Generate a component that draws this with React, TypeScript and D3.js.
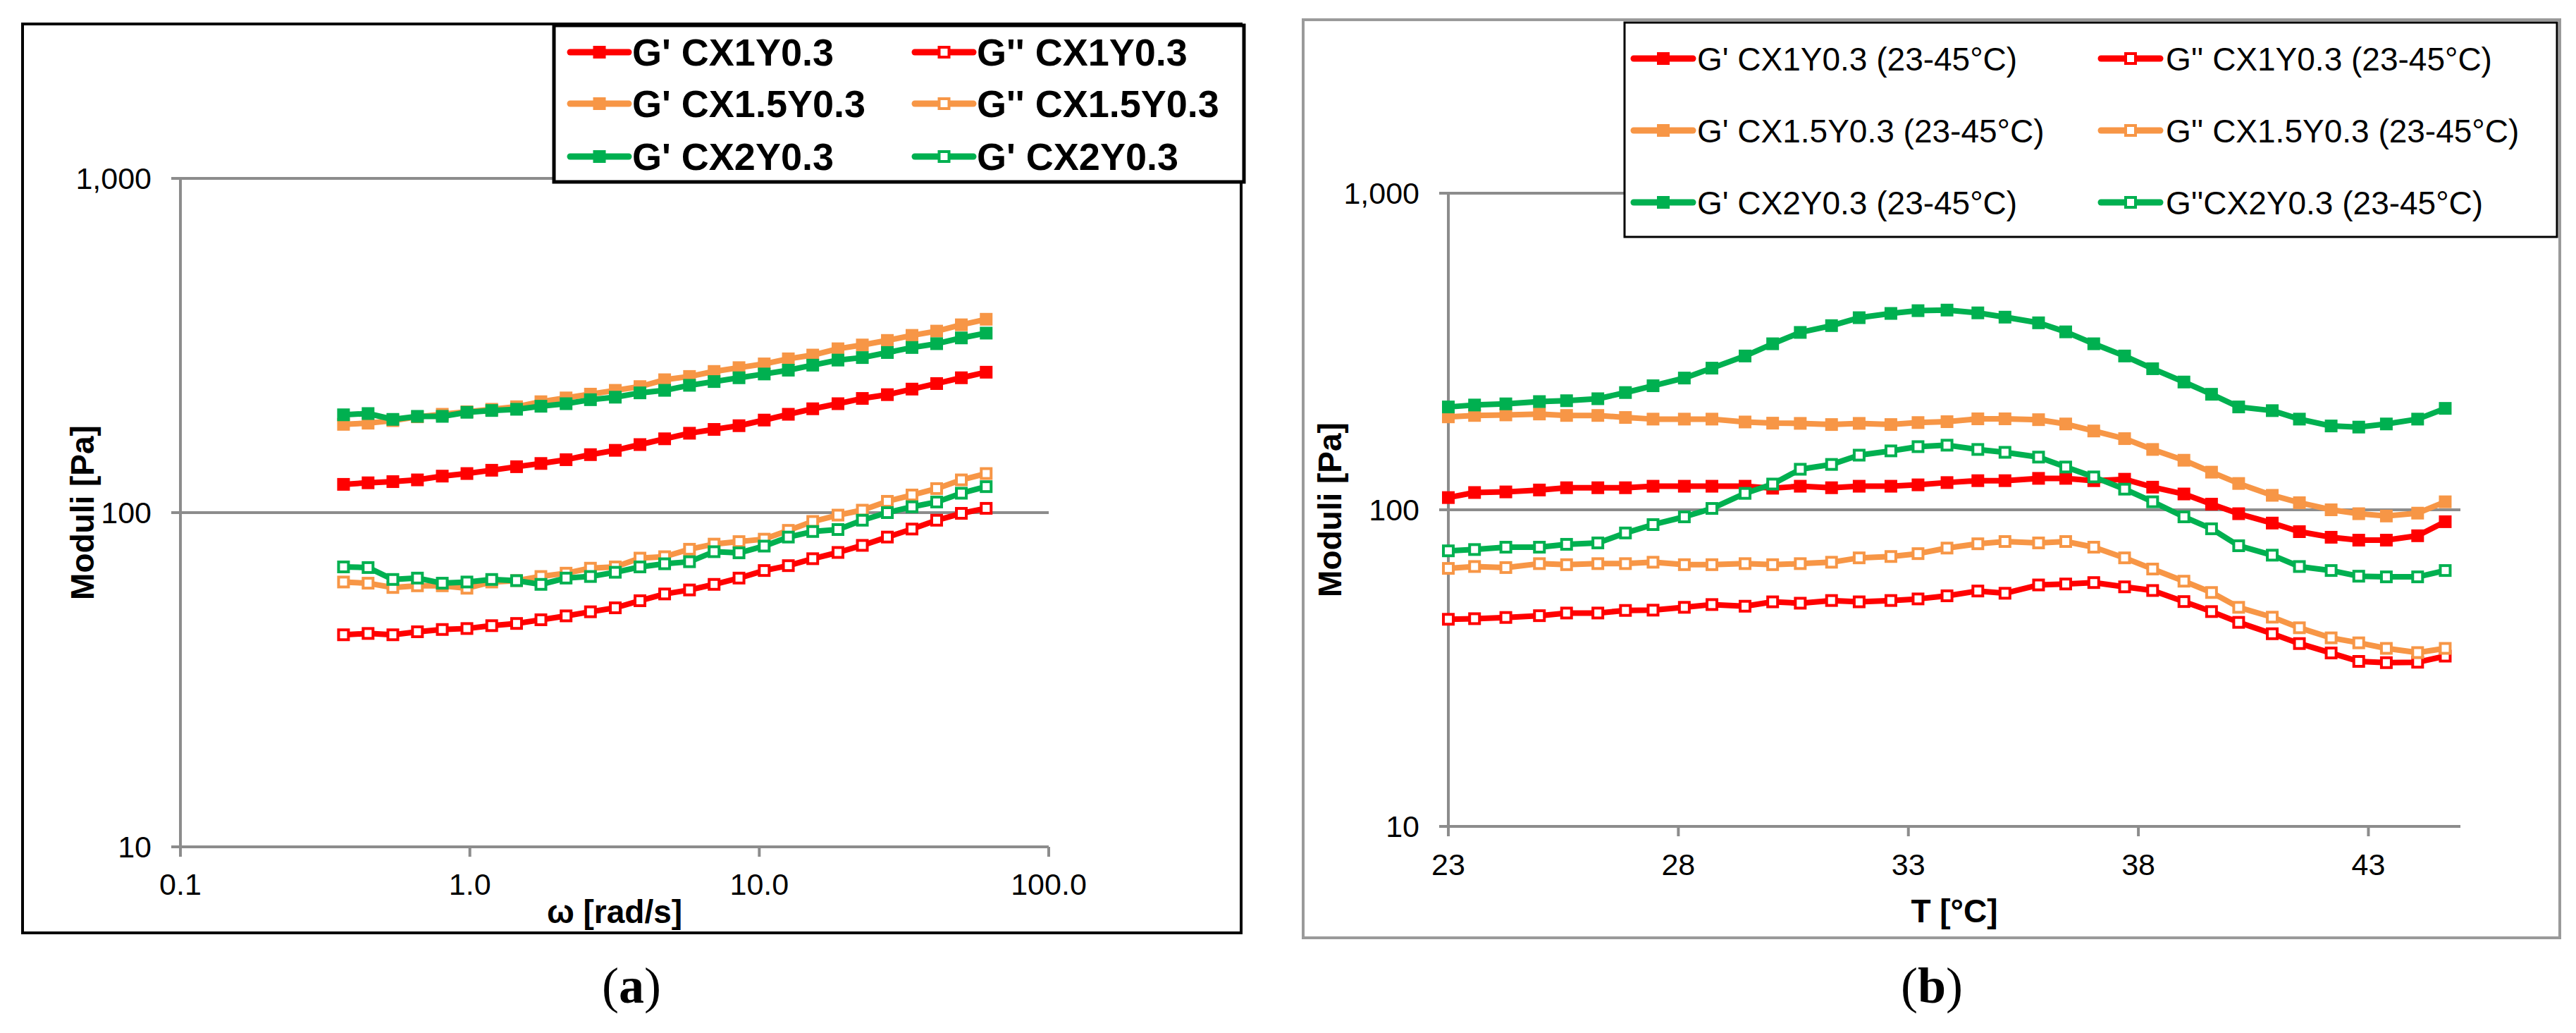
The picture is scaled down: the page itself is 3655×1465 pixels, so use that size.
import React, { useEffect } from "react";
import * as d3 from "d3";

// ---------- DATA: panel (a) frequency sweep ----------
const omegaA = [0.366, 0.445, 0.542, 0.659, 0.803, 0.977, 1.19, 1.45, 1.76, 2.15, 2.61, 3.18, 3.87, 4.71, 5.74, 6.98, 8.51, 10.4, 12.6, 15.3, 18.7, 22.7, 27.7, 33.7, 41.0, 49.9, 60.8];
const gpA_CX1 = [121.5, 122.8, 123.8, 125.3, 128.6, 130.9, 133.9, 137.2, 140.3, 144.0, 149.1, 153.6, 159.8, 166.3, 172.8, 177.4, 182.0, 189.2, 196.9, 204.5, 211.8, 219.6, 225.4, 234.2, 243.3, 253.2, 263.1];
const gppA_CX1 = [43.1, 43.5, 43.1, 44.0, 44.7, 45.0, 45.9, 46.6, 47.8, 49.1, 50.5, 51.9, 54.5, 57.1, 58.7, 61.0, 63.7, 67.1, 69.4, 72.8, 76.0, 79.8, 84.5, 89.3, 94.9, 99.5, 103.0];
const gpA_CX15 = [183.7, 185.2, 188.5, 193.5, 196.9, 200.3, 203.8, 207.4, 214.7, 220.4, 226.2, 232.2, 238.3, 249.8, 255.5, 264.5, 271.5, 278.6, 288.5, 296.1, 309.2, 317.4, 327.5, 339.1, 349.2, 364.7, 378.9];
const gppA_CX15 = [62.0, 61.5, 59.7, 60.4, 60.4, 59.4, 62.0, 62.6, 64.4, 65.9, 68.2, 68.8, 73.1, 73.8, 77.7, 80.5, 81.9, 83.3, 88.5, 94.1, 98.3, 101.7, 108.1, 112.9, 118.0, 125.3, 130.9];
const gpA_CX2 = [196.2, 197.9, 190.1, 194.1, 194.1, 199.6, 202.1, 203.8, 208.1, 211.8, 217.7, 221.5, 228.2, 232.2, 240.4, 246.7, 253.2, 259.9, 266.8, 276.2, 286.0, 291.0, 301.3, 311.9, 320.2, 333.2, 344.4];
const gppA_CX2 = [68.8, 68.5, 63.1, 63.7, 61.5, 62.0, 63.1, 62.6, 61.0, 63.7, 64.4, 66.3, 68.8, 70.3, 71.3, 76.4, 75.8, 79.4, 84.5, 87.8, 89.0, 94.9, 100.0, 104.1, 107.6, 114.3, 119.6];
const labelsA = ["G' CX1Y0.3", "G'' CX1Y0.3", "G' CX1.5Y0.3", "G'' CX1.5Y0.3", "G' CX2Y0.3", "G' CX2Y0.3"];
const xTicksA = [0.1, 1, 10, 100];
const xTickLabelsA = ["0.1", "1.0", "10.0", "100.0"];

// ---------- DATA: panel (b) temperature sweep ----------
const tempB = [23.0, 23.57, 24.25, 24.98, 25.57, 26.25, 26.85, 27.45, 28.13, 28.73, 29.45, 30.05, 30.65, 31.33, 31.93, 32.62, 33.21, 33.84, 34.51, 35.1, 35.83, 36.42, 37.03, 37.7, 38.31, 38.99, 39.59, 40.18, 40.91, 41.5, 42.19, 42.79, 43.39, 44.07, 44.67];
const gpB_CX1 = [109.3, 113.4, 113.9, 115.5, 117.4, 117.4, 117.4, 118.7, 118.7, 118.7, 118.7, 117.0, 118.7, 117.4, 118.7, 118.7, 119.9, 121.9, 123.6, 123.6, 125.7, 125.7, 123.6, 124.9, 117.9, 112.2, 104.2, 97.2, 90.8, 85.3, 81.9, 80.2, 80.2, 82.8, 91.7];
const gppB_CX1 = [45.1, 45.3, 45.7, 46.3, 47.2, 47.2, 48.1, 48.2, 49.2, 50.2, 49.6, 51.2, 50.7, 51.7, 51.2, 51.7, 52.3, 53.5, 55.4, 54.5, 57.9, 58.3, 58.9, 57.1, 55.6, 51.3, 47.7, 44.1, 40.6, 37.8, 35.3, 33.2, 32.9, 33.0, 34.5];
const gpB_CX15 = [196.6, 198.6, 199.4, 200.7, 198.6, 198.6, 195.7, 193.4, 193.4, 193.4, 189.4, 187.8, 187.5, 185.9, 187.5, 185.9, 188.6, 189.8, 193.8, 193.8, 192.6, 186.7, 177.4, 167.8, 155.1, 143.4, 131.5, 121.1, 111.1, 105.3, 100.0, 97.2, 95.6, 97.6, 106.0];
const gppB_CX15 = [65.3, 66.2, 65.7, 67.6, 67.1, 67.6, 67.6, 68.3, 67.1, 67.1, 67.6, 67.1, 67.6, 68.3, 70.5, 71.2, 72.7, 75.7, 78.1, 79.4, 78.6, 79.4, 76.2, 70.5, 65.0, 59.5, 54.8, 49.2, 45.8, 42.4, 39.4, 38.0, 36.5, 35.4, 36.5];
const gpB_CX2 = [211.3, 214.3, 216.1, 219.7, 221.1, 224.3, 234.6, 246.5, 260.7, 280.2, 306.1, 334.5, 363.3, 381.7, 404.4, 417.1, 425.6, 427.4, 418.8, 406.0, 389.6, 364.8, 334.5, 306.1, 279.0, 253.3, 231.7, 211.3, 205.7, 193.4, 184.0, 182.5, 186.7, 193.4, 209.1];
const gppB_CX2 = [74.2, 74.9, 76.2, 76.2, 77.8, 78.6, 84.5, 89.8, 95.0, 101.0, 112.7, 120.6, 134.3, 139.1, 148.8, 153.5, 158.3, 160.0, 155.1, 151.9, 146.7, 136.5, 127.0, 116.2, 106.0, 95.0, 87.1, 77.0, 71.9, 66.2, 64.3, 61.7, 61.4, 61.4, 64.3];
const labelsB = ["G' CX1Y0.3 (23-45°C)", "G'' CX1Y0.3 (23-45°C)", "G' CX1.5Y0.3 (23-45°C)", "G'' CX1.5Y0.3 (23-45°C)", "G' CX2Y0.3 (23-45°C)", "G''CX2Y0.3 (23-45°C)"];
const xTicksB = [23, 28, 33, 38, 43];

// shared
const yTicks = [10, 100, 1000];
const yTickLabels = ["10", "100", "1,000"];
const seriesColors = ["#FF0000", "#FF0000", "#F79646", "#F79646", "#00B050", "#00B050"];
const seriesOpen = [false, true, false, true, false, true];

const SANS = "'Liberation Sans', Arial, sans-serif";
const SERIF = "'Liberation Serif', 'Times New Roman', serif";
const GRID = "#8c8c8c";
const LW = 8;
const MS = 18;

function Marker({ x, y, color, open }: { x: number; y: number; color: string; open: boolean }) {
  if (open) {
    return <rect x={x - MS / 2 + 2} y={y - MS / 2 + 2} width={MS - 4} height={MS - 4} fill="#fff" stroke={color} strokeWidth={4} />;
  }
  return <rect x={x - MS / 2} y={y - MS / 2} width={MS} height={MS} fill={color} />;
}

type PanelProps = {
  xs: number[];
  series: number[][];
  xScale: (v: number) => number;
  yScale: d3.ScaleLogarithmic<number, number>;
  plot: { left: number; right: number; top: number; bottom: number };
};

function Series({ xs, series, xScale, yScale }: PanelProps) {
  const line = d3
    .line<[number, number]>()
    .x((d) => xScale(d[0]))
    .y((d) => yScale(d[1]));
  return (
    <g>
      {series.map((vals, si) => {
        const pts: [number, number][] = xs.map((x, i) => [x, vals[i]]);
        return (
          <g key={si}>
            <path d={line(pts) || ""} fill="none" stroke={seriesColors[si]} strokeWidth={LW} strokeLinejoin="round" />
            {pts.map((p, i) => (
              <Marker key={i} x={xScale(p[0])} y={yScale(p[1])} color={seriesColors[si]} open={seriesOpen[si]} />
            ))}
          </g>
        );
      })}
    </g>
  );
}

function YAxis({ yScale, plot, labelRight, titleX }: { yScale: d3.ScaleLogarithmic<number, number>; plot: PanelProps["plot"]; labelRight: number; titleX: number }) {
  const midY = (plot.top + plot.bottom) / 2;
  return (
    <g>
      {yTicks.map((t, i) => (
        <g key={t}>
          <line x1={plot.left - 13} x2={plot.right} y1={yScale(t)} y2={yScale(t)} stroke={GRID} strokeWidth={4} />
          <text x={labelRight} y={yScale(t)} dy="0.35em" textAnchor="end" fontFamily={SANS} fontSize={43} fill="#000">
            {yTickLabels[i]}
          </text>
        </g>
      ))}
      <line x1={plot.left} x2={plot.left} y1={plot.top} y2={plot.bottom + 14} stroke={GRID} strokeWidth={4} />
      <text transform={`translate(${titleX},${midY}) rotate(-90)`} textAnchor="middle" dy="0.35em" fontFamily={SANS} fontWeight="bold" fontSize={46} fill="#000">
        Moduli [Pa]
      </text>
    </g>
  );
}

function Legend({ box, rows, cols, textX, labels, fontSize, bold, strokeW }: { box: { x: number; y: number; w: number; h: number }; rows: number[]; cols: number[][]; textX: number[]; labels: string[]; fontSize: number; bold: boolean; strokeW: number }) {
  return (
    <g>
      <rect x={box.x} y={box.y} width={box.w} height={box.h} fill="#fff" stroke="#000" strokeWidth={strokeW} />
      {labels.map((lab, i) => {
        const r = Math.floor(i / 2);
        const c = i % 2;
        const y = rows[r];
        const [x1, x2] = cols[c];
        return (
          <g key={i}>
            <line x1={x1} x2={x2} y1={y} y2={y} stroke={seriesColors[i]} strokeWidth={LW + 1} strokeLinecap="round" />
            <Marker x={(x1 + x2) / 2} y={y} color={seriesColors[i]} open={seriesOpen[i]} />
            <text x={textX[c]} y={y} dy="0.36em" fontFamily={SANS} fontWeight={bold ? "bold" : "normal"} fontSize={fontSize} fill="#000">
              {lab}
            </text>
          </g>
        );
      })}
    </g>
  );
}

export default function App() {
  useEffect(() => {
    document.body.style.margin = "0";
  }, []);

  // Panel (a)
  const plotA = { left: 256, right: 1488, top: 253, bottom: 1201 };
  const xA = d3.scaleLog().domain([0.1, 100]).range([plotA.left, plotA.right]);
  const yA = d3.scaleLog().domain([10, 1000]).range([plotA.bottom, plotA.top]);
  const seriesA = [gpA_CX1, gppA_CX1, gpA_CX15, gppA_CX15, gpA_CX2, gppA_CX2];

  // Panel (b)
  const plotB = { left: 2055, right: 3491, top: 274, bottom: 1172 };
  const xB = d3.scaleLinear().domain([23, 45]).range([plotB.left, plotB.right]);
  const yB = d3.scaleLog().domain([10, 1000]).range([plotB.bottom, plotB.top]);
  const seriesB = [gpB_CX1, gppB_CX1, gpB_CX15, gppB_CX15, gpB_CX2, gppB_CX2];

  return (
    <svg width={3655} height={1465} viewBox="0 0 3655 1465" style={{ display: "block", background: "#fff" }}>
      <rect x={0} y={0} width={3655} height={1465} fill="#fff" />

      {/* ---------- Panel (a) ---------- */}
      <rect x={32} y={34} width={1729} height={1289} fill="#fff" stroke="#000" strokeWidth={4} />
      <YAxis yScale={yA} plot={plotA} labelRight={215} titleX={117} />
      {xTicksA.map((t, i) => (
        <g key={t}>
          <line x1={xA(t)} x2={xA(t)} y1={plotA.bottom} y2={plotA.bottom + 14} stroke={GRID} strokeWidth={4} />
          <text x={xA(t)} y={1254} dy="0.35em" textAnchor="middle" fontFamily={SANS} fontSize={43} fill="#000">
            {xTickLabelsA[i]}
          </text>
        </g>
      ))}
      <text x={(plotA.left + plotA.right) / 2} y={1293} dy="0.35em" textAnchor="middle" fontFamily={SANS} fontWeight="bold" fontSize={46} fill="#000">
        ω [rad/s]
      </text>
      <Series xs={omegaA} series={seriesA} xScale={xA} yScale={yA} plot={plotA} />
      <Legend
        box={{ x: 786, y: 36, w: 979, h: 222 }}
        rows={[74, 147, 222]}
        cols={[[809, 892], [1298, 1381]]}
        textX={[897, 1386]}
        labels={labelsA}
        fontSize={54}
        bold={true}
        strokeW={5}
      />
      <text x={896} y={1397} dy="0.35em" textAnchor="middle" fontFamily={SERIF} fontSize={72} fill="#000">
        (<tspan fontWeight="bold">a</tspan>)
      </text>

      {/* ---------- Panel (b) ---------- */}
      <rect x={1849} y={28} width={1783} height={1302} fill="#fff" stroke="#9a9a9a" strokeWidth={4} />
      <YAxis yScale={yB} plot={plotB} labelRight={2014} titleX={1887} />
      {xTicksB.map((t) => (
        <g key={t}>
          <line x1={xB(t)} x2={xB(t)} y1={plotB.bottom} y2={plotB.bottom + 14} stroke={GRID} strokeWidth={4} />
          <text x={xB(t)} y={1226} dy="0.35em" textAnchor="middle" fontFamily={SANS} fontSize={43} fill="#000">
            {t}
          </text>
        </g>
      ))}
      <text x={(plotB.left + plotB.right) / 2} y={1292} dy="0.35em" textAnchor="middle" fontFamily={SANS} fontWeight="bold" fontSize={46} fill="#000">
        T [°C]
      </text>
      <Series xs={tempB} series={seriesB} xScale={xB} yScale={yB} plot={plotB} />
      <Legend
        box={{ x: 2305, y: 32, w: 1323, h: 304 }}
        rows={[83, 185, 287]}
        cols={[[2318, 2402], [2981, 3065]]}
        textX={[2408, 3073]}
        labels={labelsB}
        fontSize={46}
        bold={false}
        strokeW={3}
      />
      <text x={2741} y={1397} dy="0.35em" textAnchor="middle" fontFamily={SERIF} fontSize={72} fill="#000">
        (<tspan fontWeight="bold">b</tspan>)
      </text>
    </svg>
  );
}
